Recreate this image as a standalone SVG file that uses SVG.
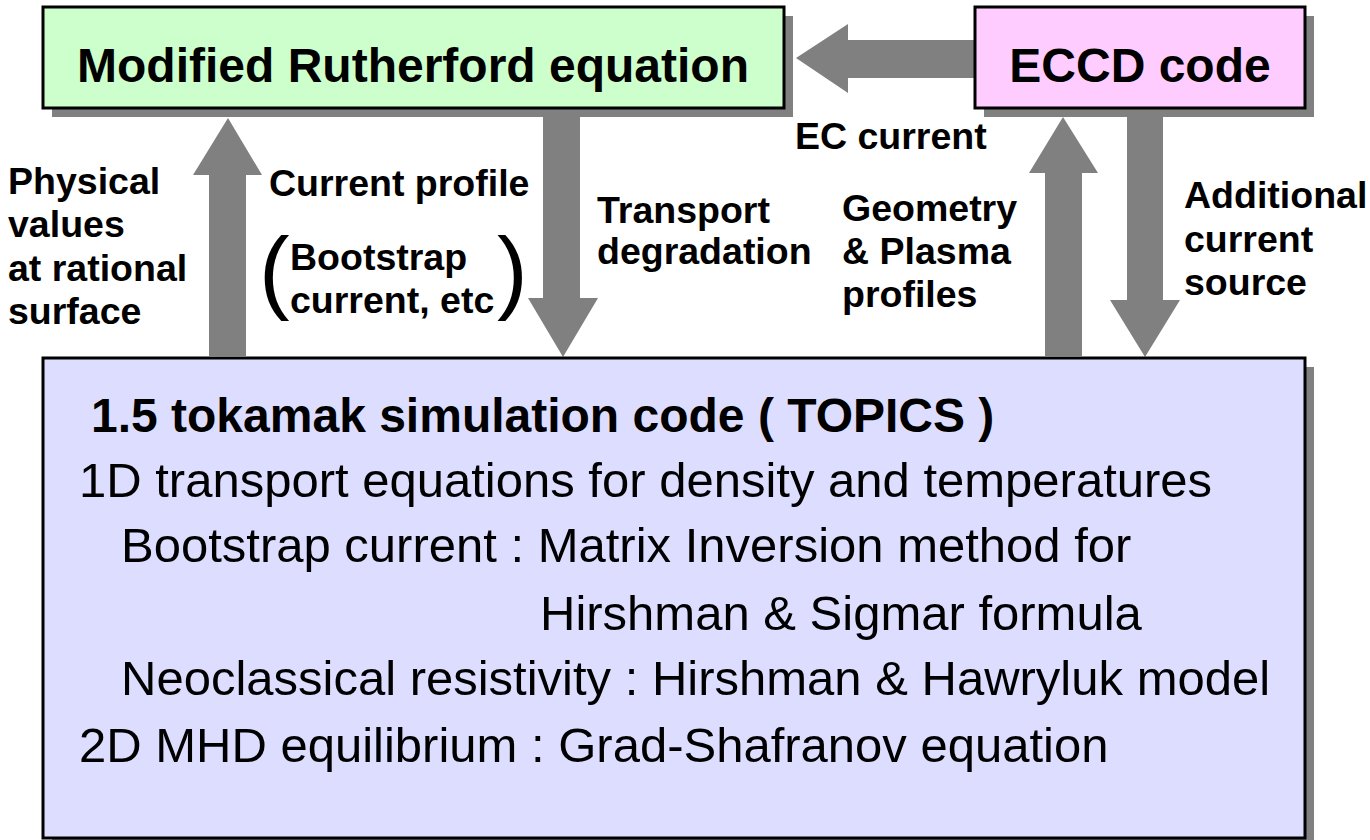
<svg xmlns="http://www.w3.org/2000/svg" width="1370" height="840" viewBox="0 0 1370 840">
  <style>
    .box { stroke: #000; stroke-width: 3; }
    .shadow { fill: #808080; }
    .arrow { fill: #808080; }
    .title { font-family: "Liberation Sans", Arial, sans-serif; font-weight: bold; font-size: 48px; fill: #000; }
    .lbl { font-family: "Liberation Sans", Arial, sans-serif; font-weight: bold; font-size: 37.5px; fill: #000; }
    .body { font-family: "Liberation Sans", Arial, sans-serif; font-size: 49px; fill: #000; }
    .paren { font-family: "Liberation Sans", Arial, sans-serif; font-size: 92px; fill: #000; }
  </style>
  <rect width="1370" height="840" fill="#ffffff"/>

  <g id="connectors">
    <polygon class="arrow" points="796,58 848,24 848,40 980,40 980,78 848,78 848,93"/>
    <polygon class="arrow" points="228,118 262,175 246,175 246,356 209,356 209,175 193,175"/>
    <polygon class="arrow" points="543,100 580,100 580,298 598,298 563,357 528,298 543,298"/>
    <polygon class="arrow" points="1063,117 1098,173 1082,173 1082,356 1045,356 1045,173 1029,173"/>
    <polygon class="arrow" points="1127,100 1163,100 1163,300 1180,300 1145,357 1110,300 1127,300"/>
  </g>

  <g id="node-rutherford">
    <rect class="shadow" x="52" y="16" width="741" height="101"/>
    <rect class="box" x="43" y="7" width="741" height="101" fill="#ccffcc"/>
    <text class="title" x="413" y="82" text-anchor="middle">Modified Rutherford equation</text>
  </g>

  <g id="node-eccd">
    <rect class="shadow" x="984" y="16" width="330" height="101"/>
    <rect class="box" x="975" y="7" width="330" height="101" fill="#ffccff"/>
    <text class="title" x="1140" y="82" text-anchor="middle">ECCD code</text>
  </g>

  <g id="labels">
    <text class="lbl" x="795" y="149">EC current</text>
    <text class="lbl" x="8" y="194">Physical</text>
    <text class="lbl" x="8" y="237">values</text>
    <text class="lbl" x="8" y="281">at rational</text>
    <text class="lbl" x="8" y="324">surface</text>
    <text class="lbl" x="269" y="196">Current profile</text>
    <text class="paren" x="259" y="302">(</text>
    <text class="lbl" x="290" y="270">Bootstrap</text>
    <text class="lbl" x="290" y="313">current, etc</text>
    <text class="paren" x="497" y="302">)</text>
    <text class="lbl" x="597" y="223">Transport</text>
    <text class="lbl" x="597" y="264">degradation</text>
    <text class="lbl" x="842" y="221">Geometry</text>
    <text class="lbl" x="842" y="264">&amp; Plasma</text>
    <text class="lbl" x="842" y="307">profiles</text>
    <text class="lbl" x="1184" y="208">Additional</text>
    <text class="lbl" x="1184" y="252">current</text>
    <text class="lbl" x="1184" y="295">source</text>
  </g>

  <g id="node-topics">
    <rect class="shadow" x="52" y="367" width="1262" height="480"/>
    <rect class="box" x="43" y="358" width="1262" height="480" fill="#ddddff"/>
    <text class="title" x="91" y="432">1.5 tokamak simulation code ( TOPICS )</text>
    <text class="body" x="79" y="497">1D transport equations for density and temperatures</text>
    <text class="body" x="121" y="562">Bootstrap current : Matrix Inversion method for</text>
    <text class="body" x="540" y="630">Hirshman &amp; Sigmar formula</text>
    <text class="body" x="121" y="695">Neoclassical resistivity : Hirshman &amp; Hawryluk model</text>
    <text class="body" x="79" y="762">2D MHD equilibrium : Grad-Shafranov equation</text>
  </g>
</svg>
